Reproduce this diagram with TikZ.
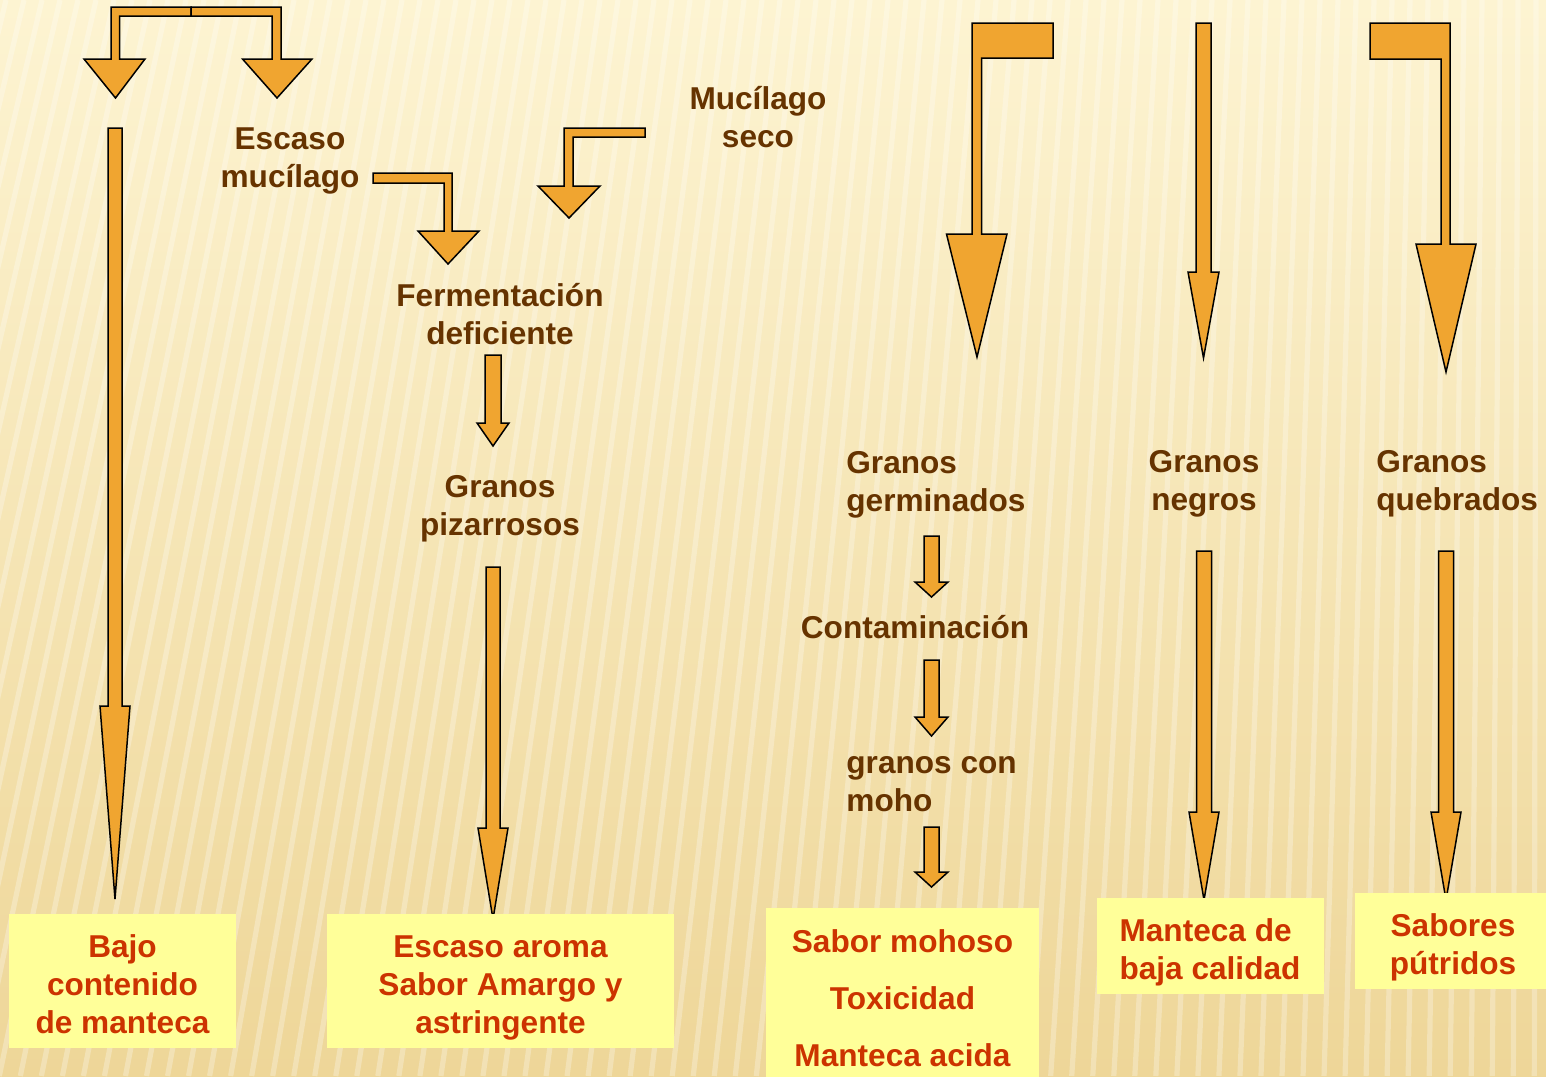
\documentclass[tikz,border=0pt]{standalone}
\usepackage{fontspec}
\setmainfont{Liberation Sans}
\usetikzlibrary{positioning}
\definecolor{bgtop}{RGB}{253,244,210}
\definecolor{bgbot}{RGB}{238,214,152}
\definecolor{arrowfill}{RGB}{240,165,48}
\definecolor{labelbrown}{RGB}{102,51,0}
\definecolor{resfill}{RGB}{255,255,153}
\definecolor{restext}{RGB}{204,51,0}
\newcommand{\dropfont}{\fontsize{15.8}{19}\selectfont\bfseries}
\newcommand{\tallstrut}{\rule{0pt}{18pt}}
\newcommand{\deepstrut}{\rule[-4pt]{0pt}{4pt}}
\newcommand{\downblock}[6]{%
  \draw[blockarrow](#1-#5,#2)--(#1+#5,#2)--(#1+#5,#3)--(#1+#6,#3)
    --(#1,#4)--(#1-#6,#3)--(#1-#5,#3)--cycle;}

\begin{document}
\begin{tikzpicture}[x=0.5pt,y=-0.5pt,
  blockarrow/.style={fill=arrowfill,draw=black,line width=0.75pt,line join=miter},
  stripe/.style={white,opacity=0.28,line width=2.6pt},
  cause/.style={text=labelbrown,align=center,inner sep=0pt,font=\dropfont},
  resbox/.style={fill=resfill,text=restext,align=center,inner sep=0pt,font=\dropfont}]
  \clip(0,0)rectangle(1546,1076);
  \fill[top color=bgtop,bottom color=bgbot](0,0)rectangle(1546,1076);
  \foreach \sx in {-300,-282,...,1560}
    \draw[stripe](\sx,0)--({\sx-260*(1-\sx/1546)},1076);
  % bent arrows
  \draw[blockarrow](191,7)--(111,7)--(111,59)--(84,59)--(115.5,98)--(145,59)
    --(119.5,59)--(119.5,16)--(191,16)--cycle;
  \draw[blockarrow](191,7)--(281,7)--(281,59)--(312,59)--(277,98)--(242.5,59)
    --(272,59)--(272,16)--(191,16)--cycle;
  \draw[blockarrow](373,173)--(452,173)--(452,231)--(479,231)--(448,264)--(418,231)
    --(444,231)--(444,183)--(373,183)--cycle;
  \draw[blockarrow](645,128)--(564,128)--(564,186)--(538,186)--(569,218)--(600,186)
    --(573,186)--(573,137)--(645,137)--cycle;
  \draw[blockarrow](1053,23)--(972,23)--(972,234)--(946.5,234)--(977,357)--(1007,234)
    --(981.5,234)--(981.5,58)--(1053,58)--cycle;
  \draw[blockarrow](1370,23)--(1450,23)--(1450,244)--(1476,244)--(1446,372)--(1416,244)
    --(1441,244)--(1441,59)--(1370,59)--cycle;
  % straight arrows
  \downblock{115}{128}{706}{899}{7}{15}
  \downblock{493}{355}{423}{446}{8}{16}
  \downblock{493}{567}{828}{919}{7}{15}
  \downblock{1203.5}{23}{272}{358}{7.5}{15.5}
  \downblock{931.5}{536}{582}{597}{7.5}{16.5}
  \downblock{931.5}{660}{717}{736}{7.5}{16.5}
  \downblock{931.5}{827}{872}{887}{7.5}{16.5}
  \downblock{1204}{551}{812}{900}{7.5}{15}
  \downblock{1446}{551}{812}{900}{7.5}{15}
  \node[cause](escaso)at(290,161){Escaso\\mucílago};
  \node[cause](mucseco)at(758,117){Mucílago\\seco};
  \node[cause](ferment)at(500,314){Fermentación\\deficiente};
  \node[cause](pizarr)at(500,509){Granos\\pizarrosos};
  \node[cause,anchor=west,align=left](germin)at(846,485){Granos\\germinados};
  \node[cause](negros)at(1204,484){Granos\\negros};
  \node[cause,anchor=west,align=left](quebr)at(1376,484){Granos\\quebrados};
  \node[cause](contam)at(915,627){Contaminación};
  \node[cause,anchor=west,align=left](moho)at(846,784.5){granos con\\moho};
  \node[resbox,minimum width=113.5pt,minimum height=67pt](bajo)at(122.5,981)
    {\tallstrut Bajo\\contenido\\de manteca\deepstrut};
  \node[resbox,minimum width=173.5pt,minimum height=67pt](aroma)at(500.5,981)
    {\tallstrut Escaso aroma\\Sabor Amargo y\\astringente\deepstrut};
  \node[resbox,minimum width=136.5pt,minimum height=90pt](mohoso)at(902.5,998)
    {Sabor mohoso\\[9.5pt]Toxicidad\\[9.5pt]Manteca acida};
  \node[resbox,align=left,minimum width=113.5pt,minimum height=48pt](baja)at(1210,946)
    {\tallstrut Manteca de\\baja calidad\deepstrut};
  \node[resbox,minimum width=98pt,minimum height=48pt](putrid)at(1453,941)
    {\tallstrut Sabores\\pútridos\deepstrut};
\end{tikzpicture}
\end{document}
